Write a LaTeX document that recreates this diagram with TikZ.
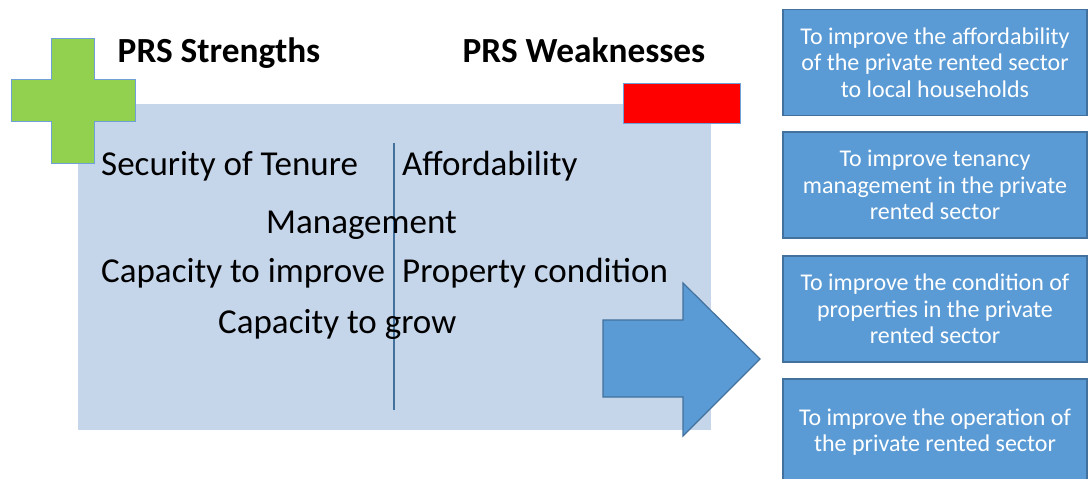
\documentclass[tikz,border=0pt]{standalone}
\usepackage{fontspec}
\setmainfont{Carlito}
\begin{document}
\begin{tikzpicture}[x=1pt,y=-1pt,
  lbl/.style={inner sep=0pt, anchor=base west, font=\fontsize{35}{42}\selectfont},
  ttl/.style={inner sep=0pt, anchor=base, font=\bfseries\fontsize{35.3}{42}\selectfont},
  goal/.style={draw=boxline, fill=boxblue, line width=1.2pt, minimum width=304pt, minimum height=106pt,
     align=center, text=white, inner sep=0pt, font=\fontsize{24}{26.5}\selectfont},
  badge/.style={draw=badgeline, line width=1pt}]
\definecolor{panel}{HTML}{C5D5EA}
\definecolor{boxblue}{HTML}{5B9BD5}
\definecolor{boxline}{HTML}{41719C}
\definecolor{badgeline}{HTML}{6FA0D8}
\definecolor{plusgreen}{HTML}{92D050}
\useasboundingbox (0,0) rectangle (1088,479);
\begin{scope}
\clip (0,0) rectangle (1088,479);
% panel
\fill[panel] (78,104) rectangle (711,430);
% plus sign
\draw[badge, fill=plusgreen] (51,38) -- (94,38) -- (94,79) -- (135,79) -- (135,121) -- (94,121)
  -- (94,163) -- (51,163) -- (51,121) -- (11,121) -- (11,79) -- (51,79) -- cycle;
% red minus
\draw[badge, fill=red] (623,83) rectangle (740,123);
% divider
\coordinate (dtop) at (394,143);
\coordinate (dbot) at (394,410);
\draw[boxline, line width=1.2pt] (dtop) -- (dbot);
% titles
\node[ttl] (ts) at (219,62) {PRS Strengths};
\node[ttl] (tw) at (584,62) {PRS Weaknesses};
% labels
\node[lbl] (sec) at (101,175) {Security of Tenure};
\node[lbl] (aff) at (402,175) {Affordability};
\node[lbl] (man) at (266,233) {Management};
\node[lbl] (cti) at (101,282) {Capacity to improve};
\node[lbl] (pco) at (402,282) {Property condition};
\node[lbl] (ctg) at (218,333) {Capacity to grow};
% big arrow
\draw[draw=boxline, fill=boxblue, line width=1.2pt] (603,320) -- (683,320) -- (683,283) -- (760,359)
  -- (683,436) -- (683,397) -- (603,397) -- cycle;
% goal boxes
\node[goal] (g1) at (935,62.5) {To improve the affordability\\of the private rented sector\\to local households};
\node[goal] (g2) at (935,185) {To improve tenancy\\management in the private\\rented sector};
\node[goal] (g3) at (935,309) {To improve the condition of\\properties in the private\\rented sector};
\node[goal] (g4) at (935,432) {To improve the operation of\\the private rented sector};
\end{scope}
\end{tikzpicture}
\end{document}
